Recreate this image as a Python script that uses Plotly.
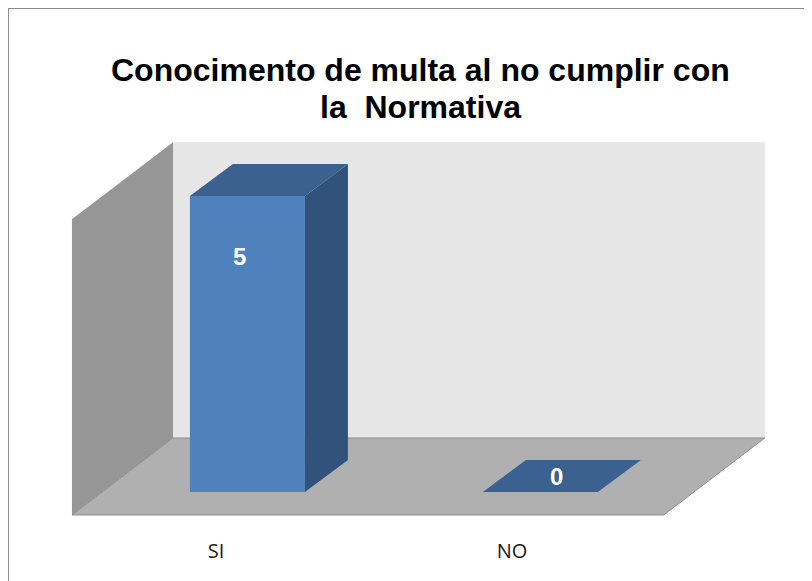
import plotly.graph_objects as go

categories = ["SI", "NO"]
values = [5, 0]
label_pos = [-0.107, 0.903]  # where Excel put the category labels (front of the floor)

# colours
front_col = "#4f81bd"
side_col = "#31527b"
top_col = "#3b6190"

# pseudo 3D geometry, in axis units
bar_w = 0.3925
depth_x = 0.1468
depth_y = 0.54
wall_x0, wall_x1 = -0.254, 1.766
wall_y0, wall_y1 = 0.912, 5.91
floor_y = -0.389
floor_dx = -0.345

xs = list(range(len(categories)))

fig = go.Figure()
fig.add_trace(go.Bar(
    x=xs,
    y=values,
    width=bar_w,
    marker=dict(color=front_col, line=dict(width=0)),
    hoverinfo="skip",
))

shapes = []


def poly(pts, fill, line="rgba(0,0,0,0)", layer="below", width=0):
    path = "M " + " L ".join(f"{px},{py}" for px, py in pts) + " Z"
    return dict(type="path", path=path, xref="x", yref="y", fillcolor=fill,
                line=dict(color=line, width=width), layer=layer)


# back wall, left wall, floor
shapes.append(poly([(wall_x0, wall_y0), (wall_x1, wall_y0), (wall_x1, wall_y1), (wall_x0, wall_y1)], "#e6e6e6"))
shapes.append(poly([(wall_x0 + floor_dx, floor_y), (wall_x0, wall_y0), (wall_x0, wall_y1),
                    (wall_x0 + floor_dx, wall_y1 - (wall_y0 - floor_y))], "#969696"))
shapes.append(poly([(wall_x0 + floor_dx, floor_y), (wall_x0, wall_y0), (wall_x1, wall_y0),
                    (wall_x1 + floor_dx, floor_y)], "#b0b0b0", line="#8f8f8f", width=1))

annotations = []
for x, v in zip(xs, values):
    l, r = x - bar_w / 2, x + bar_w / 2
    shapes.append(poly([(r, 0), (r + depth_x, depth_y), (r + depth_x, v + depth_y), (r, v)],
                       side_col, layer="above"))
    shapes.append(poly([(l, v), (r, v), (r + depth_x, v + depth_y), (l + depth_x, v + depth_y)],
                       top_col, layer="above"))
    if v > 0:
        ax, ay = x - 0.026, v - 1.03
    else:
        ax, ay = x + depth_x / 2 - 0.02, v + depth_y / 2
    annotations.append(dict(x=ax, y=ay, xref="x", yref="y", text=f"<b>{v}</b>", showarrow=False,
                            font=dict(family="Liberation Sans", size=24, color="white")))

# chart border (only the left and top edges fall inside the picture)
shapes.append(dict(type="rect", xref="paper", yref="paper", x0=-0.0427, x1=1.1, y0=-0.3, y1=1.305,
                   line=dict(color="#8c8c8c", width=2), fillcolor="rgba(0,0,0,0)", layer="below"))

# title, two lines
for txt, yy in [("Conocimento de multa al no cumplir con", 1.149), ("la  Normativa", 1.058)]:
    annotations.append(dict(
        x=0.507, y=yy, xref="paper", yref="paper", yanchor="middle",
        text=f"<b>{txt}</b>", showarrow=False,
        font=dict(family="Liberation Sans", size=32, color="black"),
    ))

fig.update_layout(
    width=812,
    height=581,
    margin=dict(l=32, r=30, t=122, b=59),
    paper_bgcolor="white",
    plot_bgcolor="rgba(0,0,0,0)",
    showlegend=False,
    shapes=shapes,
    annotations=annotations,
    xaxis=dict(range=[-0.708, 1.852], tickvals=label_pos, ticktext=categories, showgrid=False,
               zeroline=False, showline=False, ticks="", ticklabelstandoff=7,
               tickfont=dict(family="Open Sans", size=20, color="#1a1a1a")),
    yaxis=dict(range=[-0.642, 6.115], visible=False),
)

fig.write_html("out.html")
